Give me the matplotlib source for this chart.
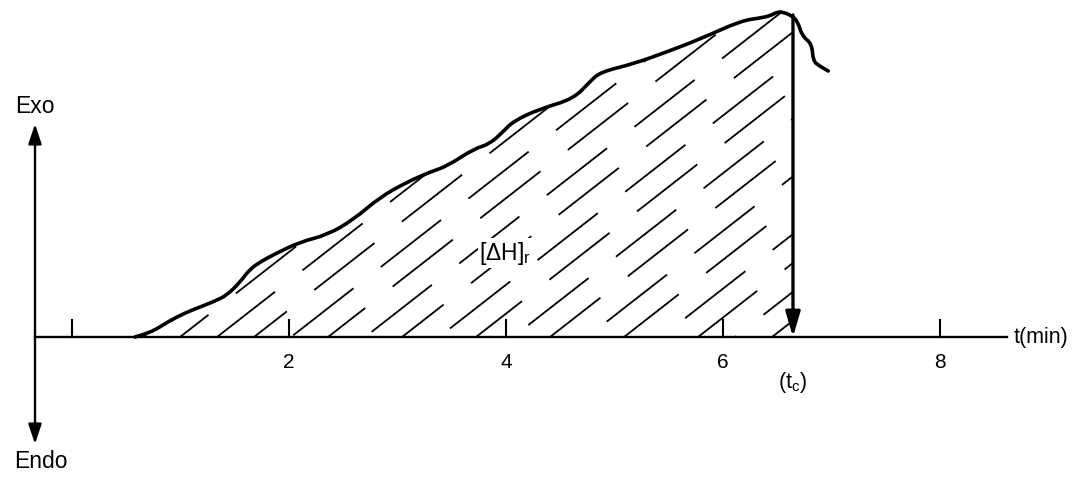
import numpy as np
import matplotlib
matplotlib.use("Agg")
import matplotlib.pyplot as plt
from matplotlib.patches import Polygon, PathPatch
from matplotlib.path import Path

plt.rcParams["font.family"] = ["Liberation Sans", "DejaVu Sans"]
plt.rcParams["mathtext.default"] = "regular"
plt.rcParams["lines.scale_dashes"] = False

# heat flow curve (t in min, signal in arbitrary units above baseline)
t_curve = [0.58, 0.72, 0.88, 1.04, 1.18, 1.32, 1.43, 1.55, 1.64, 1.75, 1.87,
           2.10, 2.35, 2.59, 2.84, 3.09, 3.30, 3.46, 3.70, 3.85, 3.97, 4.07,
           4.31, 4.62, 4.77, 4.87, 5.17, 5.48, 5.79, 6.16, 6.34, 6.43, 6.50,
           6.55, 6.64, 6.69, 6.73, 6.82, 6.83, 6.89, 6.97]
h_curve = [0, 4, 15, 24, 30, 36, 42, 55, 68, 76, 83,
           95, 102, 117, 140, 155, 165, 171, 188, 193, 205, 216,
           228, 238, 255, 265, 273, 285, 298, 316, 319, 321, 325,
           325, 321, 315, 301, 293, 276, 271, 266]
t_c = 6.645
xticks = [0, 2, 4, 6, 8]
xtick_labels = ["", "2", "4", "6", "8"]

px = 108.5  # pixels per minute
fig = plt.figure(figsize=(10.82, 4.81), dpi=100)
ax = fig.add_axes([0, 0, 1, 1])
ax.set_xlim(-72 / px, (1082 - 72) / px)
ax.set_ylim(338 - 481, 338)
ax.axis("off")

# hatched area under the curve up to t_c
t_arr = np.array(t_curve)
h_arr = np.array(h_curve)
keep = t_arr <= t_c
poly_t = list(t_arr[keep]) + [t_c, t_c, t_curve[0]]
poly_h = list(h_arr[keep]) + [322, 0, 0]
area = Polygon(np.column_stack([poly_t, poly_h]), closed=True,
               fill=False, edgecolor="none")
ax.add_patch(area)

slope = 0.78 * px
step = 37 / px
starts = np.arange(t_curve[0] - 340 / slope, t_c, step)
for i, t0 in enumerate(starts):
    off = (i * 53) % 110
    ln, = ax.plot([t0, t0 + 340 / slope], [0, 340], color="black", lw=1.3,
                  linestyle=(off, (55, 25)))
    ln.set_clip_path(area)

# curve, drawn smooth with quadratic segments through the midpoints
pts = np.column_stack([t_curve, h_curve])
verts = [pts[0]]
codes = [Path.MOVETO]
for k in range(1, len(pts) - 1):
    mid = (pts[k] + pts[k + 1]) / 2
    verts += [pts[k], mid]
    codes += [Path.CURVE3, Path.CURVE3]
verts.append(pts[-1])
codes.append(Path.LINETO)
ax.add_patch(PathPatch(Path(verts, codes), fill=False, lw=2.6,
                       edgecolor="black", capstyle="round", joinstyle="round"))

# baseline and ticks
ax.plot([-37 / px, 8.618], [0, 0], color="black", lw=1.7)
for t in xticks:
    ax.plot([t, t], [0, 17], color="black", lw=1.5)
for t, lab in zip(xticks, xtick_labels):
    ax.text(t, -25, lab, ha="center", va="center", fontsize=15)
ax.text(8.68, 0, "t(min)", ha="left", va="center", fontsize=15.5)

# Exo / Endo axis
x_ax = -37 / px
ax.annotate("", xy=(x_ax, 213), xytext=(x_ax, -107),
            arrowprops=dict(arrowstyle="<|-|>,head_length=0.6,head_width=0.2",
                            mutation_scale=20, lw=1.7, color="black",
                            shrinkA=0, shrinkB=0))
ax.text(x_ax, 231, "Exo", ha="center", va="center", fontsize=16.5)
ax.text(x_ax + 0.05, -124, "Endo", ha="center", va="center", fontsize=16.5)

# t_c arrow
ax.annotate("", xy=(t_c, 0), xytext=(t_c, 322),
            arrowprops=dict(arrowstyle="-|>,head_length=0.75,head_width=0.22",
                            mutation_scale=20, lw=2.4, color="black",
                            shrinkA=0, shrinkB=0))
ax.text(t_c, -45, "(t$_c$)", ha="center", va="center", fontsize=15.5)
ax.text(3.99, 84, "[ΔH]$_r$", ha="center", va="center", fontsize=16.5,
        bbox=dict(facecolor="white", edgecolor="none", pad=1))

fig.savefig("out.png", dpi=100)
